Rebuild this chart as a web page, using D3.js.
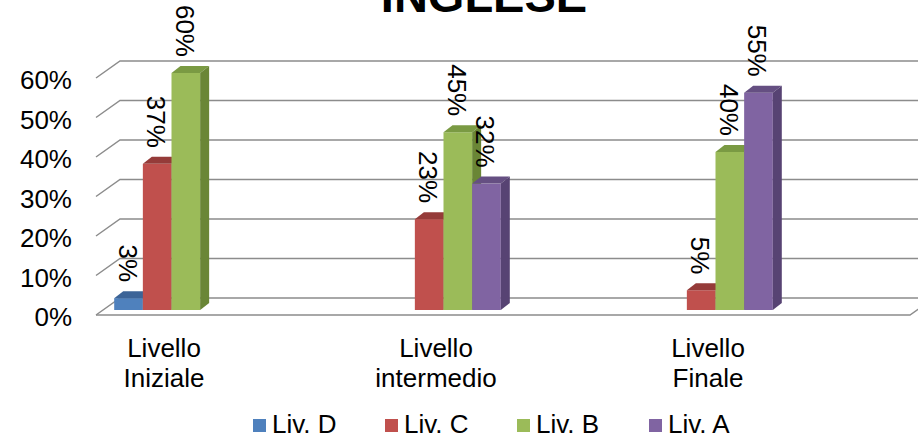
<!DOCTYPE html>
<html>
<head>
<meta charset="utf-8">
<script src="https://cdn.jsdelivr.net/npm/d3@7"></script>
<style>
  body { margin: 0; background: #fff; }
  svg { display: block; font-family: "Liberation Sans", Arial, sans-serif; }
</style>
</head>
<body>
<svg id="chart" width="918" height="438"></svg>
<script>
// data
const categories = ["Livello Iniziale", "Livello intermedio", "Livello Finale"];
const series = ["Liv. D", "Liv. C", "Liv. B", "Liv. A"];
const livD = [0.03, null, null];
const livC = [0.37, 0.23, 0.05];
const livB = [0.60, 0.45, 0.40];
const livA = [null, 0.32, 0.55];
const yTicks = [0, 0.1, 0.2, 0.3, 0.4, 0.5, 0.6];

const values = [livD, livC, livB, livA];
const front = ["#4f81bd", "#c0504d", "#9bbb59", "#8064a2"];
const topC  = ["#3c6497", "#953b39", "#7a9a43", "#654f82"];
const sideC = ["#345887", "#8a3735", "#6a8636", "#574373"];

const svg = d3.select("#chart");

// back wall scale; front edge sits 24px left, 17px lower
const yBack = d3.scaleLinear().domain([0, 0.6]).range([298, 61]);
const depthX = 24, depthY = 17;
const wallLeft = 120, wallRight = 934;
const barShiftY = 12, barShiftX = 7.5;
const barDx = 9, barDy = -7;
const fs = 26;

const fmt = d3.format(".0%");

// gridlines
const grid = svg.append("g");
yTicks.forEach(t => {
  const y = yBack(t);
  grid.append("path")
    .attr("d", `M${wallLeft - depthX},${y + depthY}L${wallLeft},${y}L${wallRight},${y}`)
    .attr("fill", "none").attr("stroke", "#8c8c8c").attr("stroke-width", 1.5);
});
// floor front edge
grid.append("path")
  .attr("d", `M${wallLeft - depthX},${yBack(0) + depthY}L${wallRight - depthX},${yBack(0) + depthY}L${wallRight},${yBack(0)}`)
  .attr("fill", "none").attr("stroke", "#8c8c8c").attr("stroke-width", 1.5);

// y labels
svg.append("g").selectAll("text").data(yTicks).join("text")
  .attr("x", 72)
  .attr("y", d => yBack(d) + depthY + 2)
  .attr("text-anchor", "end")
  .attr("dominant-baseline", "central")
  .attr("font-size", fs)
  .text(d => fmt(d));

// category scale on the front plane
const x = d3.scaleBand().domain(categories).range([28, 844]);
const inner = d3.scaleBand().domain(series).range([-57.3, 57.3]);
const w = inner.bandwidth();
const yBar = v => yBack(v) + barShiftY;
const base = yBar(0);

const bars = [];
categories.forEach((c, ci) => {
  series.forEach((s, si) => {
    const v = values[si][ci];
    if (v == null) return;
    const x0 = x(c) + x.bandwidth() / 2 + barShiftX + inner(s);
    bars.push({ c, s, si, v, x0 });
  });
});

const gBars = svg.append("g");
bars.forEach(b => {
  const y = yBar(b.v);
  const g = gBars.append("g");
  g.append("rect")
    .attr("x", b.x0).attr("y", y)
    .attr("width", w).attr("height", base - y)
    .attr("fill", front[b.si]);
  g.append("path")
    .attr("d", `M${b.x0},${y}L${b.x0 + w},${y}L${b.x0 + w + barDx},${y + barDy}L${b.x0 + barDx},${y + barDy}Z`)
    .attr("fill", topC[b.si]);
  g.append("path")
    .attr("d", `M${b.x0 + w},${y}L${b.x0 + w + barDx},${y + barDy}L${b.x0 + w + barDx},${base + barDy}L${b.x0 + w},${base}Z`)
    .attr("fill", sideC[b.si]);
});

// value labels, rotated
svg.append("g").selectAll("text").data(bars).join("text")
  .attr("transform", d => `translate(${d.x0 + w / 2 - 1},${yBar(d.v) - 16}) rotate(90)`)
  .attr("text-anchor", "end")
  .attr("dominant-baseline", "central")
  .attr("font-size", fs)
  .text(d => fmt(d.v));

// category labels
const cat = svg.append("g").selectAll("text").data(categories).join("text")
  .attr("text-anchor", "middle")
  .attr("font-size", fs);
cat.each(function(d) {
  const t = d3.select(this);
  d.split(" ").forEach((p, i) => {
    t.append("tspan").attr("x", x(d) + x.bandwidth() / 2).attr("y", 357 + i * 30).text(p);
  });
});

// title (cut at the top edge, as in the source)
svg.append("text")
  .attr("x", 484).attr("y", 12)
  .attr("text-anchor", "middle")
  .attr("font-size", 47).attr("font-weight", "bold")
  .text("INGLESE");

// legend
const leg = svg.append("g").selectAll("g").data(series).join("g")
  .attr("transform", (d, i) => `translate(${253 + i * 132},0)`);
leg.append("rect").attr("x", 0).attr("y", 419).attr("width", 13).attr("height", 13)
  .attr("fill", (d, i) => front[i]);
leg.append("text").attr("x", 19).attr("y", 433).attr("font-size", fs).text(d => d);
</script>
</body>
</html>
